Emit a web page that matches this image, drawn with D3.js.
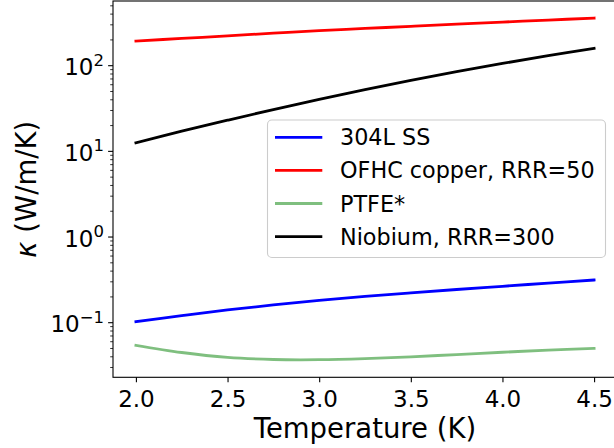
<!DOCTYPE html>
<html>
<head>
<meta charset="utf-8">
<script src="https://cdn.jsdelivr.net/npm/d3@7"></script>
<style>
  html, body { margin: 0; padding: 0; background: #fff; }
  svg { display: block; }
  text { font-family: "DejaVu Sans", sans-serif; fill: #000; }
</style>
</head>
<body>
<svg id="chart" width="614" height="448"></svg>
<script>
// ---- data ----
const temperatures = [2.0, 2.25, 2.5, 2.75, 3.0, 3.25, 3.5, 3.75, 4.0, 4.25, 4.5];
const ss304L   = [0.103, 0.121, 0.141, 0.161, 0.182, 0.203, 0.223, 0.244, 0.266, 0.290, 0.315];
const copperOFHC = [194, 208, 223, 240, 257, 272, 288, 305, 323, 341, 360];
const ptfe     = [0.0545, 0.0449, 0.0393, 0.0372, 0.0370, 0.0381, 0.0400, 0.0425, 0.0452, 0.0478, 0.0502];
const niobium  = [12.6, 17.2, 23.1, 30.8, 40.5, 52.5, 67.2, 85.0, 106.2, 130.9, 159.0];

const seriesNames = ["304L SS", "OFHC copper, RRR=50", "PTFE*", "Niobium, RRR=300"];
const seriesColors = ["#0000ff", "#ff0000", "rgba(0,128,0,0.5)", "#000000"];
const seriesValues = [ss304L, copperOFHC, ptfe, niobium];

const xTicks = [2.0, 2.5, 3.0, 3.5, 4.0, 4.5];
const yTickExponents = [-1, 0, 1, 2];
const xLabel = "Temperature (K)";

(function () {
// ---- layout ----
const svg = d3.select("#chart");
const pLeft = 113, pRight = 617, pTop = 1, pBottom = 377.3;

const x = d3.scaleLinear().domain([1.875, 4.625]).range([pLeft, pRight]);
const decade = 85.67;
const yTopExp = 2 + (65.7 - pTop) / decade;
const yBotExp = -1 - (pBottom - 322.7) / decade;
const y = d3.scaleLog().domain([Math.pow(10, yBotExp), Math.pow(10, yTopExp)]).range([pBottom, pTop]);

// clip
svg.append("defs").append("clipPath").attr("id", "clip")
  .append("rect").attr("x", pLeft).attr("y", pTop).attr("width", pRight - pLeft).attr("height", pBottom - pTop);

// lines
const line = d3.line()
  .x((d, i) => x(temperatures[i]))
  .y(d => y(d))
  .curve(d3.curveCatmullRom.alpha(0.5));

const plot = svg.append("g").attr("clip-path", "url(#clip)");
seriesValues.forEach((vals, k) => {
  plot.append("path")
    .datum(vals)
    .attr("d", line)
    .attr("fill", "none")
    .attr("stroke", seriesColors[k])
    .attr("stroke-width", 2.8)
    .attr("stroke-linecap", "square");
});

// x axis
const xAxis = d3.axisBottom(x).tickValues(xTicks).tickFormat(d3.format(".1f"))
  .tickSizeInner(4.9).tickSizeOuter(0).tickPadding(4);
const gx = svg.append("g").attr("transform", `translate(0,${pBottom})`).call(xAxis);
gx.select(".domain").remove();
gx.selectAll(".tick line").attr("stroke", "#000").attr("stroke-width", 1.1);
gx.selectAll(".tick text").attr("font-size", "23px").attr("font-family", "DejaVu Sans").attr("fill", "#000")
  .attr("dy", null).attr("y", 29.5);

// y axis major + minor ticks
const yMajor = yTickExponents.map(e => Math.pow(10, e));
const yMinor = [];
for (let e = -2; e <= 2; e++) {
  for (let m = 2; m <= 9; m++) {
    const v = m * Math.pow(10, e);
    if (v >= y.domain()[0] && v <= y.domain()[1]) yMinor.push(v);
  }
}
const gy = svg.append("g");
gy.selectAll("line.minor").data(yMinor).enter().append("line")
  .attr("x1", pLeft - 2.8).attr("x2", pLeft)
  .attr("y1", d => y(d)).attr("y2", d => y(d))
  .attr("stroke", "#000").attr("stroke-width", 0.8);
gy.selectAll("line.major").data(yMajor).enter().append("line")
  .attr("x1", pLeft - 4.9).attr("x2", pLeft)
  .attr("y1", d => y(d)).attr("y2", d => y(d))
  .attr("stroke", "#000").attr("stroke-width", 1.1);
const yl = gy.selectAll("text.ylab").data(yTickExponents).enter().append("text")
  .attr("x", 104).attr("y", d => y(Math.pow(10, d)) + 9.5)
  .attr("text-anchor", "end").attr("font-size", "23px");
yl.append("tspan").text("10");
yl.append("tspan").attr("dy", -9.5).attr("font-size", "16.5px")
  .text(d => d < 0 ? "\u2212" + Math.abs(d) : String(d));

// spines
svg.append("rect").attr("x", pLeft).attr("y", pTop).attr("width", pRight - pLeft).attr("height", pBottom - pTop)
  .attr("fill", "none").attr("stroke", "#000").attr("stroke-width", 1.1);

// axis labels
svg.append("text").attr("x", (pLeft + pRight) / 2).attr("y", 437.5)
  .attr("text-anchor", "middle").attr("font-size", "27.5px").text(xLabel);

const ylab = svg.append("text")
  .attr("transform", `translate(36,${(pTop + pBottom) / 2}) rotate(-90)`)
  .attr("text-anchor", "middle").attr("font-size", "27.5px");
ylab.append("tspan").attr("font-style", "italic").text("\u03ba");
ylab.append("tspan").text(" (W/m/K)");

// legend
const lg = svg.append("g");
lg.append("rect").attr("x", 267.5).attr("y", 120).attr("width", 338).attr("height", 137.5)
  .attr("rx", 4.4).attr("ry", 4.4)
  .attr("fill", "rgba(255,255,255,0.8)").attr("stroke", "#cccccc").attr("stroke-width", 1.1);
seriesNames.forEach((name, k) => {
  const cy = 137.3 + k * 33.1;
  lg.append("line").attr("x1", 275).attr("x2", 322.3).attr("y1", cy).attr("y2", cy)
    .attr("stroke", seriesColors[k]).attr("stroke-width", 2.8);
  lg.append("text").attr("x", 340).attr("y", cy + 8).attr("font-size", "22.3px").text(name);
});
})();
</script>
</body>
</html>
